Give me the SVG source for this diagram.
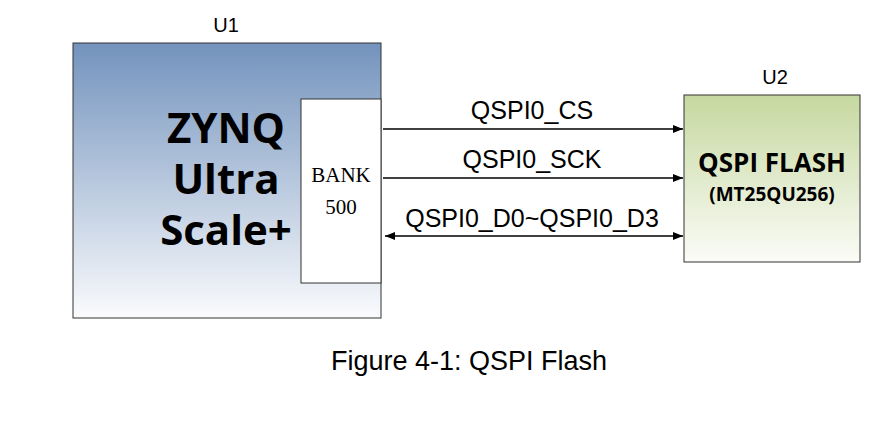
<svg xmlns="http://www.w3.org/2000/svg" width="877" height="426" viewBox="0 0 877 426">
<style>
.lbl{font-family:"Liberation Sans",Arial,sans-serif;font-size:25px;fill:#000}
.bold{font-family:"Open Sans","DejaVu Sans",sans-serif;font-weight:bold;fill:#000}
.line{stroke:#000;stroke-width:1.5;fill:none}
</style>
<defs>
<linearGradient id="g1" x1="0" y1="0" x2="0" y2="1"><stop offset="0" stop-color="#7393bd"/><stop offset="1" stop-color="#fafbfd"/></linearGradient>
<linearGradient id="g2" x1="0" y1="0" x2="0" y2="1"><stop offset="0" stop-color="#c6d8a0"/><stop offset="1" stop-color="#fbfcf7"/></linearGradient>
<marker id="a" markerWidth="10" markerHeight="8" refX="10" refY="4" orient="auto-start-reverse" markerUnits="userSpaceOnUse"><path d="M0,0 L10,4 L0,8 Z" fill="#000"/></marker>
</defs>
<g id="u1">
<text class="lbl" x="226" y="32" text-anchor="middle" style="font-size:20px">U1</text>
<rect x="73" y="43" width="308" height="275" fill="url(#g1)" stroke="#333" stroke-width="1"/>
<text class="bold" style="font-size:42px" text-anchor="middle"><tspan x="226" y="143">ZYNQ</tspan><tspan x="226" y="194">Ultra</tspan><tspan x="226" y="245">Scale+</tspan></text>
</g>
<g id="bank">
<rect x="301" y="99" width="80" height="184" fill="#fff" stroke="#333" stroke-width="1"/>
<text font-family="Liberation Serif,serif" font-size="21" text-anchor="middle"><tspan x="341" y="182">BANK</tspan><tspan x="341" y="214">500</tspan></text>
</g>
<g id="u2">
<text class="lbl" x="775" y="84" text-anchor="middle" style="font-size:20px">U2</text>
<rect x="684" y="95" width="176" height="167" fill="url(#g2)" stroke="#333" stroke-width="1"/>
<text class="bold" style="font-size:26px" x="772" y="172" text-anchor="middle">QSPI FLASH</text>
<text class="bold" style="font-size:19px" x="772" y="201" text-anchor="middle">(MT25QU256)</text>
</g>
<g id="connectors">
<line class="line" x1="383" y1="129" x2="683" y2="129" marker-end="url(#a)"/>
<line class="line" x1="383" y1="178" x2="683" y2="178" marker-end="url(#a)"/>
<line class="line" x1="385" y1="236" x2="683" y2="236" marker-start="url(#a)" marker-end="url(#a)"/>
<text class="lbl" x="532" y="119" text-anchor="middle">QSPI0_CS</text>
<text class="lbl" x="532" y="168" text-anchor="middle">QSPI0_SCK</text>
<text class="lbl" x="532" y="227" text-anchor="middle">QSPI0_D0~QSPI0_D3</text>
</g>
<text class="lbl" x="469" y="370" text-anchor="middle" style="font-size:27px">Figure 4-1: QSPI Flash</text>
</svg>
